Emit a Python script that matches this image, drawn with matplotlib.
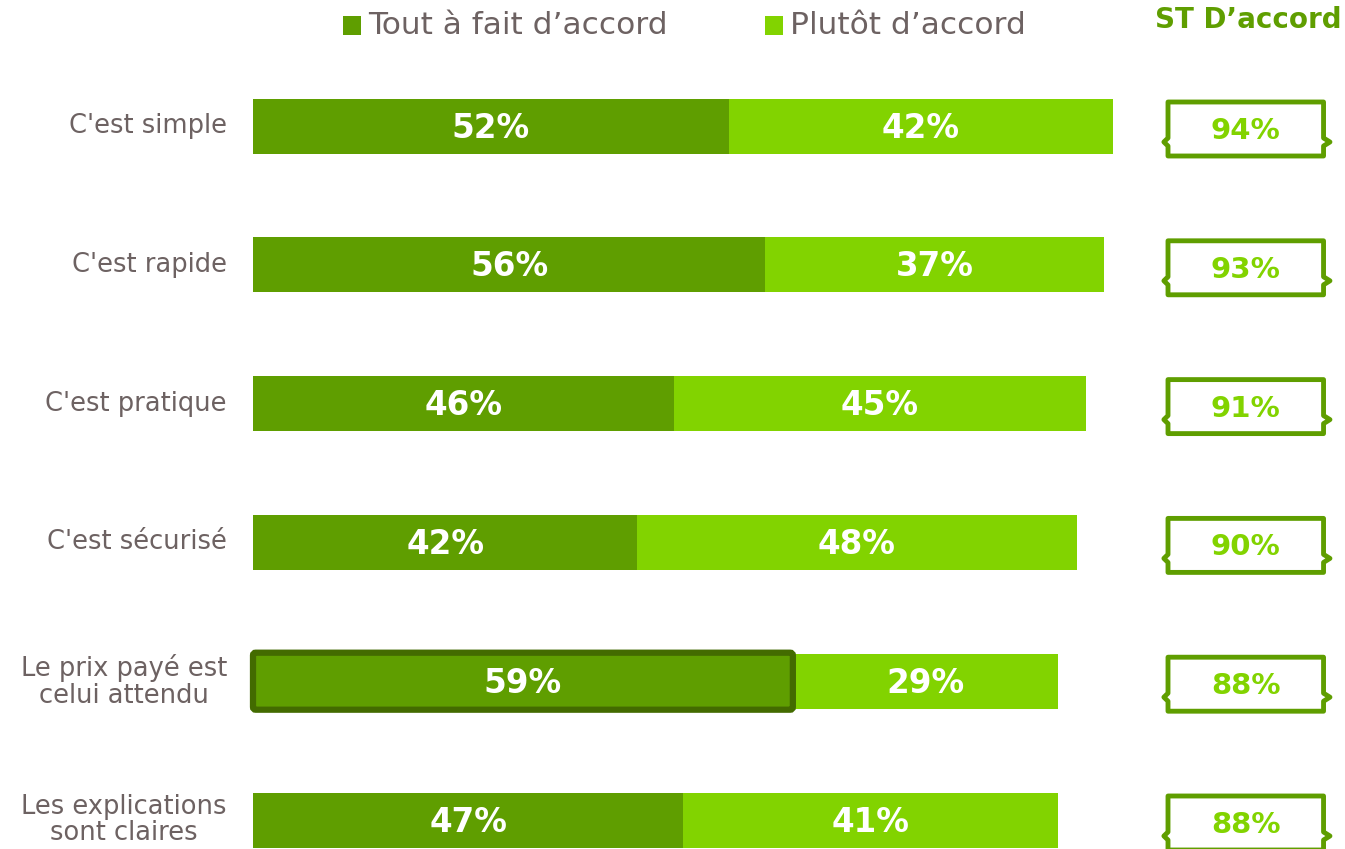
import matplotlib
matplotlib.use('Agg')
import matplotlib.pyplot as plt
from matplotlib.patches import Rectangle, Polygon, FancyBboxPatch

# Data
categories = ["C'est simple", "C'est rapide", "C'est pratique", "C'est sécurisé",
              "Le prix payé est\ncelui attendu", "Les explications\nsont claires"]
tout_a_fait = [52, 56, 46, 42, 59, 47]
plutot = [42, 37, 45, 48, 29, 41]
st_accord = [94, 93, 91, 90, 88, 88]
legend_labels = ["Tout à fait d’accord", "Plutôt d’accord"]
st_title = "ST D’accord"
highlight = 4  # row drawn with a dark frame

DARK = '#5f9e00'
LIGHT = '#82d300'
FRAME = '#436b00'
TEXT = '#6d6262'

W, H = 1345, 849
fig = plt.figure(figsize=(W / 100, H / 100), dpi=100)
ax = fig.add_axes([0, 0, 1, 1])

# scale: 0% at x=253px, 9.15 px per percent; rows every 138.8 px starting at 126 px
PX = 9.15
ROW = 138.8
ax.set_xlim(-253 / PX, (W - 253) / PX)
ax.set_ylim((H - 126) / ROW, -126 / ROW)
ax.axis('off')

bar_h = 55 / ROW
ys = list(range(len(categories)))
dy = 2 / ROW  # values sit a touch below the bar middle

for i, y in enumerate(ys):
    a, b = tout_a_fait[i], plutot[i]
    ax.barh(y, b, left=a, height=bar_h, color=LIGHT, linewidth=0)
    if i == highlight:
        box = FancyBboxPatch((0, y - bar_h / 2 - 1 / ROW), a, bar_h + 2 / ROW,
                             boxstyle='round,pad=0,rounding_size=0.3',
                             facecolor=DARK, edgecolor=FRAME, linewidth=4.5,
                             mutation_aspect=1 / ROW * PX)
        ax.add_patch(box)
    else:
        ax.barh(y, a, height=bar_h, color=DARK, linewidth=0)
    ax.text(a / 2, y + dy, f'{a}%', ha='center', va='center', color='white',
            fontsize=23.5, fontweight='bold')
    ax.text(a + b / 2, y + dy, f'{b}%', ha='center', va='center', color='white',
            fontsize=23.5, fontweight='bold')
    ax.text(-26 / PX, y, categories[i], ha='right', va='center', color=TEXT,
            fontsize=18.5, multialignment='center', linespacing=1.05)

    # ST box with notched sides
    x0, x1 = 100.0, 117.0
    yc = y + 3 / ROW
    top, bot = yc - 27 / ROW, yc + 27 / ROW
    ny = yc + 13 / ROW
    dn = 4 / ROW
    pts = [(x0, top), (x1, top), (x1, ny - dn), (x1 + 0.7, ny), (x1, ny + dn),
           (x1, bot), (x0, bot), (x0, ny + dn), (x0 - 0.45, ny), (x0, ny - dn)]
    ax.add_patch(Polygon(pts, closed=True, facecolor='white', edgecolor=DARK,
                         linewidth=3.5, joinstyle='round', clip_on=False))
    ax.text((x0 + x1) / 2, yc + dy, f'{st_accord[i]}%', ha='center', va='center',
            color=LIGHT, fontsize=21, fontweight='bold')

# legend
for px0, lab, col in [(343, legend_labels[0], DARK), (765, legend_labels[1], LIGHT)]:
    fig.patches.append(Rectangle((px0 / W, 1 - 35 / H), 18 / W, 19 / H,
                                 transform=fig.transFigure, color=col, linewidth=0))
    fig.text((px0 + 25) / W, 1 - 26 / H, lab, ha='left', va='center',
             color=TEXT, fontsize=22.5)

fig.text(1248 / W, 1 - 20 / H, st_title, ha='center', va='center', color=DARK,
         fontsize=20, fontweight='bold')

fig.savefig('out.png', dpi=100)
